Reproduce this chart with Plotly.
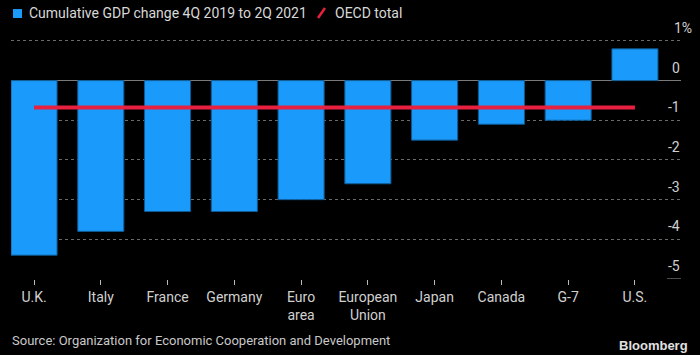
import plotly.graph_objects as go

categories = ["U.K.", "Italy", "France", "Germany", "Euro<br>area", "European<br>Union",
              "Japan", "Canada", "G-7", "U.S."]
gdp_change = [-4.4, -3.8, -3.3, -3.3, -3.0, -2.6, -1.5, -1.1, -1.0, 0.8]
oecd_total = -0.68
y_ticks = [1, 0, -1, -2, -3, -4, -5]
y_tick_labels = ["1%", "0", "-1", "-2", "-3", "-4", "-5"]

W, H = 700, 355
L, R = 11, 681          # plot area px
TOP, BOT = 33, 279.5
FONT = "Liberation Sans Narrow, Roboto, Noto Sans, sans-serif"

def px_x(px):
    return (px - L) / (R - L)

def px_y(py):
    return (BOT - py) / (BOT - TOP)

x_idx = list(range(len(categories)))

fig = go.Figure()
fig.add_trace(go.Bar(
    x=x_idx, y=gdp_change, width=0.69,
    marker=dict(color="#1a9bfc", line=dict(color="#0e5a94", width=1)),
    showlegend=False, hoverinfo="y",
))
fig.add_trace(go.Scatter(
    x=[x_idx[0], x_idx[-1]], y=[oecd_total, oecd_total], mode="lines",
    line=dict(color="#e8203f", width=4), showlegend=False, hoverinfo="y",
))

grid_vals = [v for v in y_ticks if v != -5]

fig.update_layout(
    width=W, height=H,
    margin=dict(l=L, r=W - R, t=TOP, b=H - BOT, pad=0),
    paper_bgcolor="#000000", plot_bgcolor="#000000",
    font=dict(family=FONT, color="#d0d0d0", size=14),
    bargap=0.3,
    xaxis=dict(
        range=[-0.345, 9.69], tickvals=x_idx, ticktext=categories,
        ticks="outside", ticklen=5, tickcolor="#bbbbbb", tickwidth=1,
        showgrid=False, zeroline=False, showline=False,
        tickfont=dict(size=14, color="#d0d0d0", family=FONT),
    ),
    yaxis=dict(
        range=[-5, 1.2], tickvals=grid_vals, showticklabels=False,
        showgrid=True, gridcolor="#6a6a6a", gridwidth=1, griddash="dot",
        zeroline=True, zerolinecolor="#7a7a7a", zerolinewidth=1,
        showline=False, ticks="",
    ),
)

annotations = []
for v, t in zip(y_ticks, y_tick_labels):
    if t.endswith("%"):
        annotations.append(dict(x=px_x(672), xref="paper", y=v, yref="y", text=t,
                                xanchor="left", yanchor="bottom", showarrow=False, yshift=3,
                                font=dict(size=14, color="#d0d0d0", family=FONT)))
    else:
        annotations.append(dict(x=px_x(682), xref="paper", y=v, yref="y", text=t,
                                xanchor="right", yanchor="bottom", showarrow=False, yshift=3,
                                font=dict(size=14, color="#d0d0d0", family=FONT)))

# legend
annotations.append(dict(x=px_x(27), xref="paper", y=px_y(13), yref="paper",
                        text="Cumulative GDP change 4Q 2019 to 2Q 2021", xanchor="left",
                        yanchor="middle", showarrow=False,
                        font=dict(size=14, color="#d8d8d8", family=FONT)))
annotations.append(dict(x=px_x(333), xref="paper", y=px_y(13), yref="paper",
                        text="OECD total", xanchor="left", yanchor="middle", showarrow=False,
                        font=dict(size=14, color="#d8d8d8", family=FONT)))
# footer
annotations.append(dict(x=px_x(10), xref="paper", y=px_y(341), yref="paper",
                        text="Source: Organization for Economic Cooperation and Development",
                        xanchor="left", yanchor="middle", showarrow=False,
                        font=dict(size=13, color="#c8c8c8", family=FONT)))
annotations.append(dict(x=px_x(690), xref="paper", y=px_y(346), yref="paper",
                        text="<b>Bloomberg</b>", xanchor="right", yanchor="middle",
                        showarrow=False,
                        font=dict(size=13, color="#e0e0e0", family="Liberation Sans, Arial, sans-serif")))
fig.update_layout(annotations=annotations)

shapes = [
    dict(type="rect", xref="paper", yref="paper", x0=px_x(13), x1=px_x(22),
         y0=px_y(18), y1=px_y(9), fillcolor="#1a9bfc", line=dict(width=0)),
    dict(type="line", xref="paper", yref="paper", x0=px_x(318), x1=px_x(325),
         y0=px_y(18), y1=px_y(8), line=dict(color="#e8203f", width=2.5)),
    dict(type="line", xref="paper", yref="y", x0=px_x(667), x1=px_x(681),
         y0=-5, y1=-5, line=dict(color="#9a9a9a", width=1)),
]
fig.update_layout(shapes=shapes)

fig.write_html("out.html", config={"displayModeBar": False},
               post_script="document.body.style.margin='0';document.body.style.padding='0';"
                           "document.body.style.overflow='hidden';document.body.style.background='#000';")
